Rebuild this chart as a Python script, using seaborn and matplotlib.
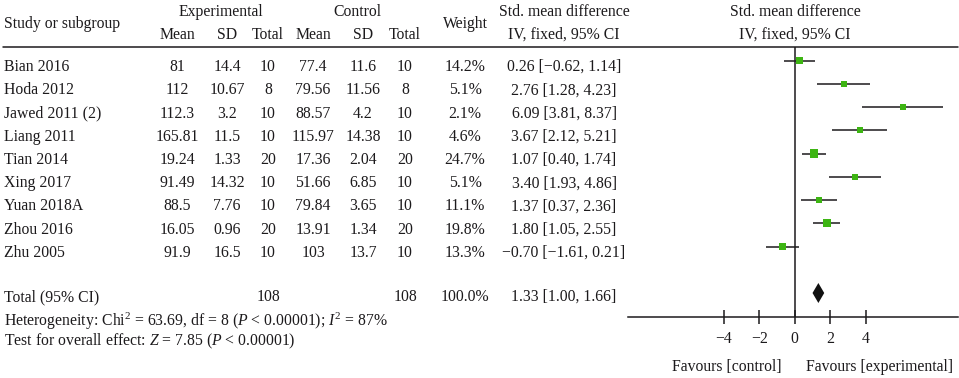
import numpy as np
import matplotlib
matplotlib.use("Agg")
import matplotlib.pyplot as plt
import seaborn as sns

# Study data
studies = ["Bian 2016", "Hoda 2012", "Jawed 2011 (2)", "Liang 2011", "Tian 2014",
           "Xing 2017", "Yuan 2018A", "Zhou 2016", "Zhu 2005"]
exp_mean = ["81", "112", "112.3", "165.81", "19.24", "91.49", "88.5", "16.05", "91.9"]
exp_sd = ["14.4", "10.67", "3.2", "11.5", "1.33", "14.32", "7.76", "0.96", "16.5"]
exp_total = [10, 8, 10, 10, 20, 10, 10, 20, 10]
ctl_mean = ["77.4", "79.56", "88.57", "115.97", "17.36", "51.66", "79.84", "13.91", "103"]
ctl_sd = ["11.6", "11.56", "4.2", "14.38", "2.04", "6.85", "3.65", "1.34", "13.7"]
ctl_total = [10, 8, 10, 10, 20, 10, 10, 20, 10]
weight = [14.2, 5.1, 2.1, 4.6, 24.7, 5.1, 11.1, 19.8, 13.3]
smd = [0.26, 2.76, 6.09, 3.67, 1.07, 3.40, 1.37, 1.80, -0.70]
ci_lo = [-0.62, 1.28, 3.81, 2.12, 0.40, 1.93, 0.37, 1.05, -1.61]
ci_hi = [1.14, 4.23, 8.37, 5.21, 1.74, 4.86, 2.36, 2.55, 0.21]

total_exp = 108
total_ctl = 108
total_weight = 100.0
total_smd = 1.33
total_lo = 1.00
total_hi = 1.66

xticks = [-4, -2, 0, 2, 4]

sns.set_theme(style="white")
plt.rcParams['font.family'] = ['Liberation Serif', 'DejaVu Serif']
plt.rcParams['mathtext.fontset'] = 'custom'
plt.rcParams['mathtext.rm'] = 'Liberation Serif'
plt.rcParams['mathtext.it'] = 'Liberation Serif:italic'

TXT = '#1c1a1c'
GREEN = '#3db513'
FS = 11.3

W, H = 959, 378
fig = plt.figure(figsize=(W / 100, H / 100), dpi=100)

# background axes in pixel units for the table text
bg = fig.add_axes([0, 0, 1, 1])
bg.set_xlim(0, W)
bg.set_ylim(H, 0)
bg.axis('off')


def put(x, y, s, ha='center'):
    bg.text(x, y, s, ha=ha, va='center', fontsize=FS, color=TXT)


def fmt(v):
    return f"{v:.2f}".replace('-', '\u2212')


# headers
put(4, 24, "Study or subgroup", ha='left')
put(221, 12, "Experimental")
put(357, 12, "Control")
for x, s in zip([177, 227, 268, 313, 363, 405], ["Mean", "SD", "Total", "Mean", "SD", "Total"]):
    put(x, 35, s)
put(465, 24, "Weight")
put(564, 12, "Std. mean difference")
put(564, 35, "IV, fixed, 95% CI")
put(795, 12, "Std. mean difference")
put(795, 35, "IV, fixed, 95% CI")
bg.plot([3, 958], [47, 47], color=TXT, lw=1.1)

row_y = 67 + 23.25 * np.arange(len(studies))
for i, y in enumerate(row_y):
    put(4, y, studies[i], ha='left')
    put(177, y, exp_mean[i])
    put(227, y, exp_sd[i])
    put(268, y, str(exp_total[i]))
    put(313, y, ctl_mean[i])
    put(363, y, ctl_sd[i])
    put(405, y, str(ctl_total[i]))
    put(465, y, f"{weight[i]:.1f}%")
    put(564, y, f"{fmt(smd[i])} [{fmt(ci_lo[i])}, {fmt(ci_hi[i])}]")

tot_y = 297
put(4, tot_y, "Total (95% CI)", ha='left')
put(268, tot_y, str(total_exp))
put(405, tot_y, str(total_ctl))
put(465, tot_y, f"{total_weight:.1f}%")
put(564, tot_y, f"{fmt(total_smd)} [{fmt(total_lo)}, {fmt(total_hi)}]")
put(4, 321, r"Heterogeneity: Chi$^2$ = 63.69, df = 8 ($P$ < 0.00001); $I^2$ = 87%", ha='left')
put(4, 341, r"Test for overall effect: $Z$ = 7.85 ($P$ < 0.00001)", ha='left')
put(727, 367, "Favours [control]")
put(880, 367, "Favours [experimental]")

# forest plot axes (y in pixel units of the figure)
x0, x1, ytop, ybot = 628, 958, 47, 317
ax = fig.add_axes([x0 / W, (H - ybot) / H, (x1 - x0) / W, (ybot - ytop) / H])
ax.set_facecolor('none')
ax.set_ylim(ybot, ytop)
ax.set_xlim(-9.4, 9.2)

mark_y = row_y - 6.5
ax.axvline(0, color=TXT, lw=1.1, zorder=1)
ax.hlines(mark_y, ci_lo, ci_hi, color=TXT, lw=1.1, zorder=2)
side_px = 4.3 + 0.75 * np.sqrt(weight)
sns.scatterplot(x=smd, y=mark_y, marker='s', s=(side_px * 0.72) ** 2,
                color=GREEN, linewidth=0, ax=ax, zorder=3)

dy = 293
dh = 10
ax.fill([total_lo, total_smd, total_hi, total_smd], [dy, dy - dh, dy, dy + dh],
        color='#111111', lw=0, zorder=3)

sns.despine(ax=ax, left=True, top=True, right=True)
ax.spines['bottom'].set_color(TXT)
ax.spines['bottom'].set_linewidth(1.1)
ax.set_yticks([])
ax.set_xticks(xticks)
ax.set_xticklabels([str(t).replace('-', '\u2212') for t in xticks])
ax.tick_params(axis='x', direction='inout', length=9.5, width=1.1, color=TXT,
               labelcolor=TXT, labelsize=FS, pad=5, bottom=True)

fig.savefig("out.png", dpi=100)
